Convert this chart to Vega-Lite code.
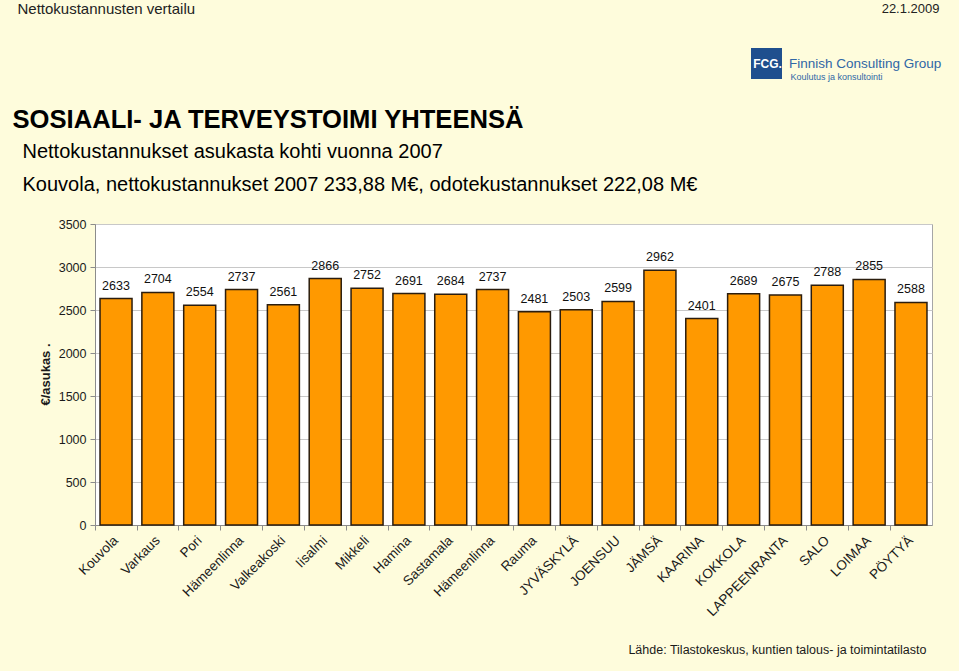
{
  "$schema": "https://vega.github.io/schema/vega-lite/v6.json",
  "width": 837,
  "height": 301,
  "autosize": {"type": "none"},
  "padding": {"left": 95, "top": 224, "right": 27, "bottom": 146},
  "background": "#fefcdc",
  "config": {
    "font": "Liberation Sans",
    "view": {"fill": "white", "stroke": "#a6a6a6", "strokeWidth": 1},
    "axis": {"labelFont": "Liberation Sans", "titleFont": "Liberation Sans"},
    "legend": {"labelFont": "Liberation Sans"}
  },
  "data": {
    "values": [
      {"kunta": "Kouvola", "arvo": 2633},
      {"kunta": "Varkaus", "arvo": 2704},
      {"kunta": "Pori", "arvo": 2554},
      {"kunta": "Hämeenlinna", "arvo": 2737},
      {"kunta": "Valkeakoski", "arvo": 2561},
      {"kunta": "Iisalmi", "arvo": 2866},
      {"kunta": "Mikkeli", "arvo": 2752},
      {"kunta": "Hamina", "arvo": 2691},
      {"kunta": "Sastamala", "arvo": 2684},
      {"kunta": "Hämeenlinna ", "arvo": 2737},
      {"kunta": "Rauma", "arvo": 2481},
      {"kunta": "JYVÄSKYLÄ", "arvo": 2503},
      {"kunta": "JOENSUU", "arvo": 2599},
      {"kunta": "JÄMSÄ", "arvo": 2962},
      {"kunta": "KAARINA", "arvo": 2401},
      {"kunta": "KOKKOLA", "arvo": 2689},
      {"kunta": "LAPPEENRANTA", "arvo": 2675},
      {"kunta": "SALO", "arvo": 2788},
      {"kunta": "LOIMAA", "arvo": 2855},
      {"kunta": "PÖYTYÄ", "arvo": 2588}
    ]
  },
  "resolve": {"axis": {"x": "independent", "y": "independent"}},
  "layer": [
    {
      "mark": {"type": "bar", "fill": "#ff9900", "stroke": "#2b1d0e", "strokeWidth": 1.5},
      "encoding": {
        "x": {
          "field": "kunta", "type": "nominal", "sort": null,
          "scale": {"paddingInner": 0.235, "paddingOuter": 0.12},
          "axis": {
            "labelAngle": -45, "labelAlign": "right", "labelBaseline": "middle",
            "labelFontSize": 13.5, "labelColor": "#1a1a1a", "labelPadding": 13, "labelLimit": 0,
            "ticks": false, "domainColor": "#8c8c8c",
            "title": "Lähde: Tilastokeskus, kuntien talous- ja toimintatilasto",
            "titleFontSize": 12.5, "titleFontWeight": "normal", "titleColor": "#1a1a1a",
            "titleX": 831, "titleY": 124, "titleAlign": "right", "titleBaseline": "middle", "titleAngle": 0
          }
        },
        "y": {
          "field": "arvo", "type": "quantitative",
          "scale": {"domain": [0, 3500], "nice": false},
          "axis": {
            "values": [0, 500, 1000, 1500, 2000, 2500, 3000, 3500], "format": "d",
            "labelFontSize": 12.5, "labelColor": "#1a1a1a", "labelPadding": 4,
            "tickSize": 5, "tickColor": "#8c8c8c", "domainColor": "#8c8c8c",
            "grid": true, "gridColor": "#c8c8c8",
            "title": "€/asukas   .", "titleFontSize": 13, "titleFontWeight": "bold", "titleColor": "#1a1a1a",
            "titleX": -50, "titleY": 150, "titleAngle": 270, "titleAlign": "center", "titleBaseline": "middle"
          }
        }
      }
    },
    {
      "mark": {"type": "text", "fontSize": 12.5, "color": "#111111", "baseline": "middle", "dy": -13},
      "encoding": {
        "x": {"field": "kunta", "type": "nominal", "sort": null, "axis": null},
        "y": {"field": "arvo", "type": "quantitative", "axis": null},
        "text": {"field": "arvo", "type": "quantitative", "format": "d"}
      }
    },
    {
      "mark": {"type": "point", "opacity": 0, "filled": true},
      "encoding": {
        "x": {
          "field": "kunta", "type": "nominal", "sort": null,
          "axis": {
            "orient": "top", "labels": false, "ticks": false, "domain": false, "grid": false,
            "title": "Nettokustannusten vertailu", "titleX": -78, "titleY": -216,
            "titleAlign": "left", "titleBaseline": "middle", "titleAngle": 0,
            "titleFontSize": 15, "titleFontWeight": "normal", "titleColor": "#222222"
          }
        },
        "y": {
          "field": "arvo", "type": "quantitative",
          "axis": {
            "orient": "right", "labels": false, "ticks": false, "domain": false, "grid": false,
            "title": "22.1.2009", "titleX": 7, "titleY": -216,
            "titleAlign": "right", "titleBaseline": "middle", "titleAngle": 0,
            "titleFontSize": 13, "titleFontWeight": "normal", "titleColor": "#222222"
          }
        },
        "fill": {
          "datum": "Finnish Consulting Group", "type": "nominal",
          "scale": {"range": ["#1f4f8e"]},
          "legend": {
            "orient": "none", "legendX": 656, "legendY": -176, "title": null,
            "symbolType": "square", "symbolSize": 961, "symbolStrokeWidth": 0,
            "labelFontSize": 13.5, "labelColor": "#2f67a6", "labelOffset": 7, "labelLimit": 0, "padding": 0
          }
        }
      }
    },
    {
      "mark": {"type": "point", "opacity": 0},
      "encoding": {
        "x": {
          "field": "kunta", "type": "nominal", "sort": null,
          "axis": {
            "orient": "top", "labels": false, "ticks": false, "domain": false, "grid": false,
            "title": "Koulutus ja konsultointi", "titleX": 695, "titleY": -148,
            "titleAlign": "left", "titleBaseline": "middle", "titleAngle": 0,
            "titleFontSize": 9, "titleFontWeight": "normal", "titleColor": "#2f67a6"
          }
        },
        "y": {
          "field": "arvo", "type": "quantitative",
          "axis": {
            "orient": "right", "labels": false, "ticks": false, "domain": false, "grid": false, "zindex": 3,
            "title": "FCG.", "titleX": -165, "titleY": -161,
            "titleAlign": "center", "titleBaseline": "middle", "titleAngle": 0,
            "titleFontSize": 12, "titleFontWeight": "bold", "titleColor": "#ffffff"
          }
        }
      }
    },
    {
      "mark": {"type": "point", "opacity": 0},
      "encoding": {
        "x": {
          "field": "kunta", "type": "nominal", "sort": null,
          "axis": {
            "orient": "bottom", "labels": false, "ticks": true, "tickSize": 5, "tickColor": "#8c8c8c",
            "bandPosition": -0.15, "domain": false, "grid": false,
            "title": ["Nettokustannukset asukasta kohti vuonna 2007", "Kouvola, nettokustannukset 2007 233,88 M€, odotekustannukset 222,08 M€"],
            "titleX": -73, "titleY": -368, "titleLineHeight": 33.3,
            "titleAlign": "left", "titleBaseline": "alphabetic", "titleAngle": 0,
            "titleFontSize": 20, "titleFontWeight": "normal", "titleColor": "#000000"
          }
        },
        "y": {
          "field": "arvo", "type": "quantitative",
          "axis": {
            "orient": "right", "labels": false, "ticks": false, "domain": false, "grid": false,
            "title": "SOSIAALI- JA TERVEYSTOIMI YHTEENSÄ", "titleX": -920, "titleY": -97,
            "titleAlign": "left", "titleBaseline": "alphabetic", "titleAngle": 0,
            "titleFontSize": 25.6, "titleFontWeight": "bold", "titleColor": "#000000"
          }
        }
      }
    }
  ]
}
